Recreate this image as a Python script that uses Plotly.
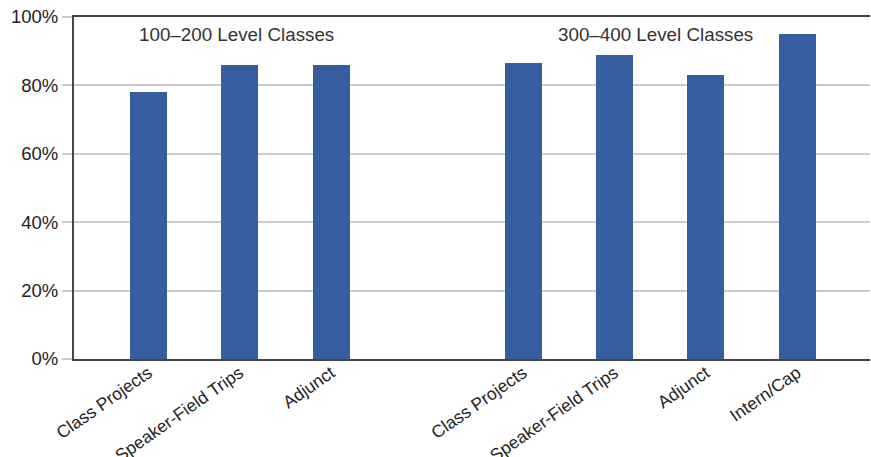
import plotly.graph_objects as go

group1_labels = ["Class Projects", "Speaker-Field Trips", "Adjunct"]
group1_values = [78, 86, 86]
group2_labels = ["Class Projects", "Speaker-Field Trips", "Adjunct", "Intern/Cap"]
group2_values = [86.5, 89, 83, 95]
group_titles = ["100\u2013200 Level Classes", "300\u2013400 Level Classes"]
y_ticks = [0, 20, 40, 60, 80, 100]
y_tick_labels = ["0%", "20%", "40%", "60%", "80%", "100%"]

GAP = 2.1  # spacing between groups, in slots
pos1 = list(range(len(group1_labels)))
pos2 = [pos1[-1] + GAP + i for i in range(len(group2_labels))]
xs = pos1 + pos2
labels = group1_labels + group2_labels
values = group1_values + group2_values

color = "#365e9e"
font = "Liberation Sans, Arial, Helvetica, sans-serif"

fig = go.Figure()
fig.add_trace(go.Bar(x=xs, y=values, marker=dict(color=color, line=dict(width=0)),
                     width=0.405, hoverinfo="skip"))

fig.add_annotation(x=pos1[1] - 0.03, y=95, text=group_titles[0], showarrow=False,
                   xref="x", yref="y", yanchor="middle",
                   font=dict(family=font, size=18.8, color="#333"))
fig.add_annotation(x=(pos2[1] + pos2[2]) / 2 - 0.05, y=95, text=group_titles[1], showarrow=False,
                   xref="x", yref="y", yanchor="middle",
                   font=dict(family=font, size=18.8, color="#333"))

fig.update_layout(
    width=871, height=457,
    margin=dict(l=74, r=1, t=17, b=98),
    paper_bgcolor="white", plot_bgcolor="white",
    showlegend=False,
    bargap=0,
    xaxis=dict(
        tickmode="array", tickvals=xs, ticktext=labels,
        tickangle=-35, range=[-0.813, 7.896], automargin=False,
        showgrid=False, zeroline=False,
        showline=True, linecolor="#444", linewidth=2, mirror=True,
        ticks="", ticklabelstandoff=-5,
        tickfont=dict(family=font, size=17.5, color="#222"),
    ),
    yaxis=dict(
        range=[0, 100], tickvals=y_ticks, ticktext=y_tick_labels, automargin=False,
        showgrid=True, gridcolor="#cccccc", gridwidth=2,
        zeroline=False, showline=True, linecolor="#444", linewidth=2,
        ticks="outside", ticklen=10, tickcolor="#cccccc", tickwidth=2,
        tickfont=dict(family=font, size=18.5, color="#222"),
    ),
)

fig.write_html("out.html")
